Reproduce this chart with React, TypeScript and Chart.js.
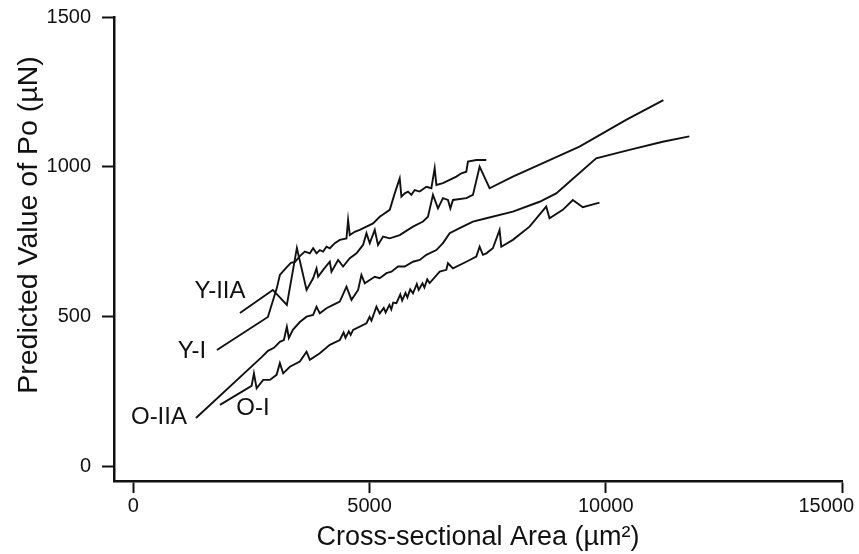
import { useEffect, useRef } from "react";
import { Chart, registerables } from "chart.js";

Chart.register(...registerables);

// Cross-sectional area (µm²) and predicted Po (µN) for each fibre group
const Y_IIA_AREA = [2256, 2953, 3249, 3461, 3666, 3805, 3877, 3911, 4017, 4158, 4194, 4334, 4439, 4581, 4723, 4862, 4934, 5004, 5110, 5179, 5285, 5427, 5638, 5919, 6131, 6236, 6342, 6448, 6553, 6659, 6710, 6765, 7048, 7188, 7329, 7540, 8033, 8739, 9443, 10430, 11219];
const Y_IIA_PO = [513, 590, 540, 730, 590, 629, 662, 634, 657, 684, 651, 690, 668, 696, 712, 740, 779, 746, 790, 740, 768, 762, 773, 801, 818, 834, 907, 862, 896, 890, 862, 890, 896, 907, 1001, 929, 968, 1018, 1068, 1157, 1223];

const Y_I_AREA = [1769, 2848, 3038, 3101, 3228, 3334, 3418, 3524, 3630, 3735, 3805, 3877, 3947, 4017, 4088, 4158, 4264, 4370, 4511, 4545, 4581, 4686, 4792, 4934, 5074, 5215, 5427, 5532, 5638, 5674, 5744, 5814, 5885, 5955, 6060, 6202, 6308, 6378, 6414, 6553, 6695, 6837, 6942, 7048, 7082, 7259, 7471];
const Y_I_PO = [390, 500, 597, 640, 663, 680, 683, 703, 718, 712, 729, 712, 723, 718, 734, 729, 746, 757, 762, 823, 773, 784, 790, 801, 812, 834, 857, 912, 962, 901, 912, 918, 907, 923, 918, 934, 929, 996, 940, 946, 957, 968, 979, 984, 1018, 1023, 1023];

const O_IIA_AREA = [1325, 2721, 2848, 2975, 3101, 3186, 3249, 3291, 3376, 3524, 3666, 3805, 3877, 3947, 4088, 4228, 4370, 4511, 4617, 4757, 4827, 4898, 5004, 5110, 5215, 5357, 5463, 5602, 5744, 5919, 6061, 6202, 6414, 6553, 6695, 6906, 7188, 7471, 8033, 8598, 8951, 9232, 9796, 10500, 11204, 11769];
const O_IIA_PO = [163, 367, 387, 397, 417, 423, 467, 430, 457, 483, 501, 507, 534, 512, 529, 540, 551, 601, 557, 590, 640, 612, 623, 634, 629, 646, 651, 668, 668, 684, 690, 707, 723, 746, 779, 796, 818, 829, 851, 884, 912, 951, 1029, 1057, 1084, 1102];

const O_I_AREA = [1833, 2503, 2552, 2609, 2748, 2890, 3031, 3101, 3171, 3313, 3524, 3666, 3735, 3947, 4158, 4370, 4450, 4490, 4560, 4600, 4651, 4934, 5000, 5040, 5145, 5215, 5300, 5340, 5420, 5460, 5500, 5568, 5650, 5690, 5760, 5800, 5860, 5919, 6000, 6040, 6120, 6160, 6220, 6272, 6484, 6625, 6659, 6765, 7048, 7259, 7329, 7399, 7471, 7610, 7752, 7788, 8033, 8386, 8739, 8809, 9090, 9302, 9513, 9866];
const O_I_PO = [207, 270, 312, 262, 290, 290, 307, 346, 312, 334, 351, 384, 357, 379, 407, 423, 448, 430, 452, 440, 457, 479, 500, 488, 534, 512, 530, 515, 540, 525, 548, 546, 575, 555, 580, 565, 592, 579, 610, 590, 612, 598, 625, 613, 651, 657, 679, 662, 684, 701, 734, 707, 712, 729, 790, 734, 757, 801, 868, 829, 857, 890, 866, 881];

const SERIES_NAMES = ["Y-IIA", "Y-I", "O-IIA", "O-I"];
const X_TICKS = [0, 5000, 10000, 15000];
const Y_TICKS = [0, 500, 1000, 1500];
const X_TITLE = "Cross-sectional Area (µm²)";
const Y_TITLE = "Predicted Value of Po (µN)";

const FONT = '"Liberation Sans", Arial, Helvetica, sans-serif';
const INK = "#111111";
const TICK_FONT_SIZE = 20;

// Where each series name sits relative to the start of its curve (px)
const NAME_OFFSETS = [
  { dx: -20, dy: -22 },
  { dx: -25, dy: 1 },
  { dx: -37, dy: -1 },
  { dx: 33, dy: 4 },
];

const toPoints = (xs: number[], ys: number[]) => xs.map((x, i) => ({ x, y: ys[i] }));

const annotations = {
  id: "curveAnnotations",
  afterDatasetsDraw(chart: any) {
    const { ctx, chartArea, width } = chart;
    const xs = chart.scales.x;
    const ys = chart.scales.y;
    ctx.save();
    ctx.fillStyle = INK;
    ctx.textBaseline = "middle";
    ctx.textAlign = "center";

    // x tick labels, kept inside the canvas at the right edge
    ctx.font = `${TICK_FONT_SIZE}px ${FONT}`;
    xs.ticks.forEach((t: any) => {
      const label = String(t.value);
      const w = ctx.measureText(label).width;
      const px = Math.min(xs.getPixelForValue(t.value), width - 5 - w / 2);
      ctx.fillText(label, px, chartArea.bottom + 25);
    });

    // series names next to the start of each curve
    ctx.font = `24px ${FONT}`;
    chart.data.datasets.forEach((ds: any, i: number) => {
      const p = ds.data[0];
      const px = xs.getPixelForValue(p.x);
      const py = ys.getPixelForValue(p.y);
      ctx.fillText(ds.label, px + NAME_OFFSETS[i].dx, py + NAME_OFFSETS[i].dy);
    });

    // axis titles
    ctx.font = `27px ${FONT}`;
    ctx.fillText(X_TITLE, (chartArea.left + chartArea.right) / 2, 538);

    ctx.font = `28.5px ${FONT}`;
    ctx.translate(29, 225);
    ctx.rotate(-Math.PI / 2);
    ctx.fillText(Y_TITLE, 0, 0);
    ctx.restore();
  },
};

export default function App() {
  const canvasRef = useRef<HTMLCanvasElement | null>(null);

  useEffect(() => {
    document.body.style.margin = "0";
    const canvas = canvasRef.current;
    if (!canvas) return;

    const series = [
      toPoints(Y_IIA_AREA, Y_IIA_PO),
      toPoints(Y_I_AREA, Y_I_PO),
      toPoints(O_IIA_AREA, O_IIA_PO),
      toPoints(O_I_AREA, O_I_PO),
    ];

    const chart = new Chart(canvas, {
      type: "scatter",
      data: {
        datasets: series.map((data, i) => ({
          label: SERIES_NAMES[i],
          data,
          showLine: true,
          borderColor: INK,
          backgroundColor: INK,
          borderWidth: 1.9,
          pointRadius: 0,
          pointHoverRadius: 0,
          fill: false,
          tension: 0,
        })),
      },
      options: {
        responsive: false,
        animation: false,
        devicePixelRatio: 1,
        layout: { padding: { top: 17, right: 17, left: 0, bottom: 0 } },
        plugins: {
          legend: { display: false },
          tooltip: { enabled: false },
        },
        scales: {
          x: {
            type: "linear",
            min: -410,
            max: 15000,
            afterBuildTicks: (s: any) => {
              s.ticks = X_TICKS.map((value) => ({ value }));
            },
            afterFit: (s: any) => {
              s.height = 73;
              s.paddingLeft = 0;
              s.paddingRight = 0;
            },
            grid: {
              display: true,
              drawOnChartArea: false,
              drawTicks: true,
              tickLength: 12,
              tickWidth: 2,
              tickColor: INK,
            },
            border: { display: true, color: INK, width: 2.5 },
            ticks: { display: false, autoSkip: false },
          },
          y: {
            type: "linear",
            min: -47,
            max: 1500,
            afterBuildTicks: (s: any) => {
              s.ticks = Y_TICKS.map((value) => ({ value }));
            },
            afterFit: (s: any) => {
              s.width = 114;
              s.paddingTop = 0;
              s.paddingBottom = 0;
            },
            grid: {
              display: true,
              drawOnChartArea: false,
              drawTicks: true,
              tickLength: 12,
              tickWidth: 2,
              tickColor: INK,
            },
            border: { display: true, color: INK, width: 2.5 },
            ticks: {
              padding: 11,
              color: INK,
              autoSkip: false,
              font: { family: FONT, size: TICK_FONT_SIZE },
              callback: (v: any) => String(v),
            },
          },
        },
      },
      plugins: [annotations],
    });

    return () => chart.destroy();
  }, []);

  return (
    <div style={{ width: 859, height: 554, background: "#ffffff" }}>
      <canvas ref={canvasRef} width={859} height={554} style={{ display: "block" }} />
    </div>
  );
}
